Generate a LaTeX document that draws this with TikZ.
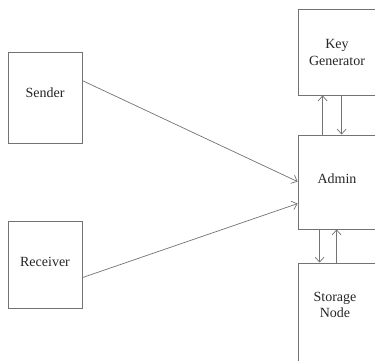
\documentclass[tikz,border=0pt]{standalone}
\usepackage{fontspec}
\setmainfont{Liberation Serif}
\usetikzlibrary{arrows.meta}
\definecolor{linegray}{RGB}{115,115,115}
\begin{document}
\begin{tikzpicture}[x=1pt,y=-1pt,
  box/.style={draw=linegray,line width=0.8pt,rectangle,inner sep=0pt,
    align=center,font=\fontsize{14}{17}\selectfont,text=black!85},
  lift/.style={text height=9.5pt,text depth=#1},
  link/.style={draw=linegray,line width=0.7pt,-{Straight Barb[length=5pt,width=9pt]}}]
  \useasboundingbox (0,0) rectangle (375,360);
  \clip (0,0) rectangle (375,360);
  \fill[white] (0,0) rectangle (375,360);

  % client boxes on the left
  \node[box,lift=9pt,minimum width=74pt,minimum height=91pt] (sender) at (45,97.5) {Sender};
  \node[box,lift=5pt,minimum width=74pt,minimum height=87pt] (receiver) at (45,264.5) {Receiver};

  % server-side column, running off the right edge
  \node[box,minimum width=78pt,minimum height=86pt] (keygen) at (337,52) {Key\\Generator};
  \node[box,lift=6pt,minimum width=78pt,minimum height=94pt] (admin) at (337,182) {Admin};
  \node[box,minimum width=78pt,minimum height=130pt] (storage) at (337,328) {};
  \node[font=\fontsize{14}{16}\selectfont,align=center,text=black!85] (storagelabel) at (335,305) {Storage\\Node};

  % requests into the admin
  \draw[link] ([yshift=-29pt]sender.north east) -- ([yshift=-47pt]admin.north west);
  \draw[link] ([yshift=-57pt]receiver.north east) -- ([yshift=-69pt]admin.north west);

  % admin <-> key generator
  \draw[link] ([xshift=25pt]admin.north west) -- ([xshift=25pt]keygen.south west);
  \draw[link] ([xshift=44pt]keygen.south west) -- ([xshift=44pt]admin.north west);

  % admin <-> storage node
  \draw[link] ([xshift=22pt]admin.south west) -- ([xshift=22pt]storage.north west);
  \draw[link] ([xshift=39pt]storage.north west) -- ([xshift=39pt]admin.south west);
\end{tikzpicture}
\end{document}
